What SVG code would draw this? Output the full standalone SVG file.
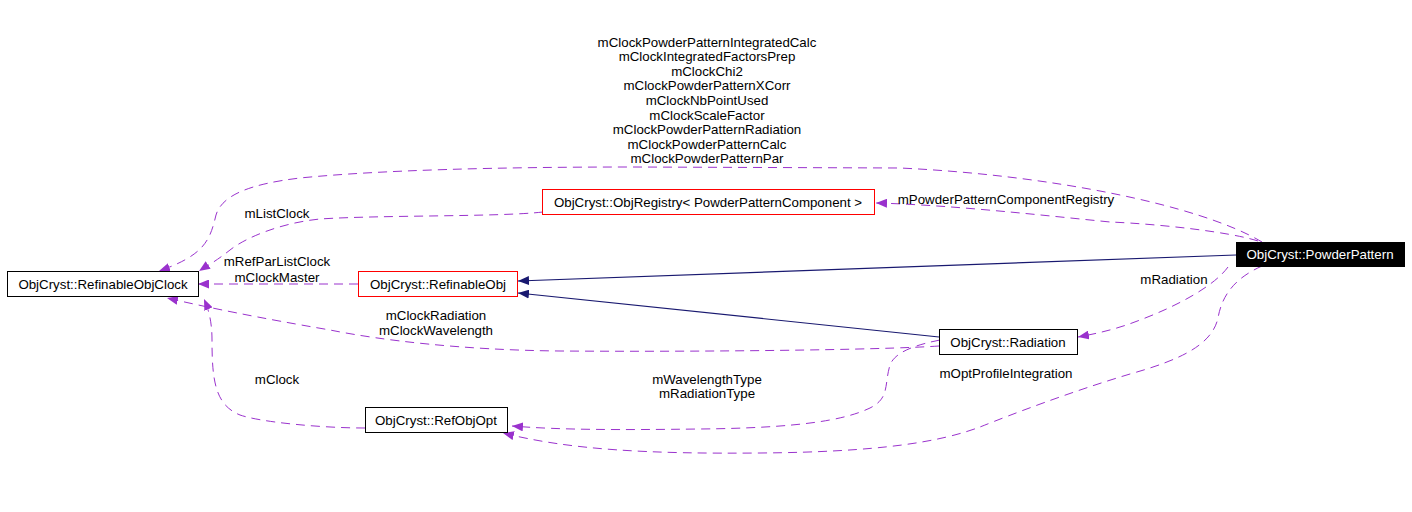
<svg xmlns="http://www.w3.org/2000/svg" width="1412" height="512" viewBox="0 0 1412 512">
<defs>
<style>
text{font-family:"Liberation Sans",Arial,sans-serif;font-size:13.3px;fill:#000;text-anchor:middle}
.box{fill:#fff;stroke:#000;stroke-width:1}
.red{fill:#fff;stroke:#ff0000;stroke-width:1}
.dark{fill:#000;stroke:#000}
.inh{fill:none;stroke:#191970;stroke-width:1.2}
.use{fill:none;stroke:#9a32cd;stroke-width:1;stroke-dasharray:9,6}
</style>
<marker id="ap" markerWidth="12" markerHeight="9" refX="11" refY="4.5" orient="auto" markerUnits="userSpaceOnUse"><path d="M0,0 L11,4.5 L0,9 z" fill="#9a32cd"/></marker>
<marker id="an" markerWidth="12" markerHeight="9" refX="11" refY="4.5" orient="auto" markerUnits="userSpaceOnUse"><path d="M0,0 L11,4.5 L0,9 z" fill="#191970"/></marker>
</defs>
<g id="connectors">
<path class="inh" d="M1236,255 L518,281" marker-end="url(#an)"/>
<path class="inh" d="M939,337 L518,293" marker-end="url(#an)"/>
<path class="use" d="M1262,242 C1200,205 1050,175 900,168 L633,167 C500,167 380,170 300,178 C250,184 222,195 216,215 C210,240 205,255 159,271" marker-end="url(#ap)"/>
<path class="use" d="M543,212 C500,217 380,215 320,219 C280,223 245,238 230,250 C215,262 205,267 199,271" marker-end="url(#ap)"/>
<path class="use" d="M358,284 L198,284" marker-end="url(#ap)"/>
<path class="use" d="M939,346 C880,350 700,352 560,351 C460,350 380,340 330,330 C260,318 210,308 167,298" marker-end="url(#ap)"/>
<path class="use" d="M365,428 C320,428 260,422 240,415 C215,405 212,380 212,340 C212,320 208,308 204,299" marker-end="url(#ap)"/>
<path class="use" d="M1258,241 C1230,232 1160,224 1110,222 C1030,214 950,205 876,203" marker-end="url(#ap)"/>
<path class="use" d="M1228,267 C1215,285 1180,305 1140,320 C1120,328 1100,333 1078,337" marker-end="url(#ap)"/>
<path class="use" d="M1262,266 C1235,278 1222,295 1218,318 C1212,345 1180,360 1130,374 C1070,392 1010,415 980,427 C940,442 880,452 760,453 C650,454 570,450 503,433" marker-end="url(#ap)"/>
<path class="use" d="M940,340 C915,345 895,352 890,365 C884,385 890,398 870,408 C845,420 800,428 700,429 C620,430 560,430 512,426" marker-end="url(#ap)"/>
</g>
<g id="edge-labels">
<text x="707" y="46.5">mClockPowderPatternIntegratedCalc</text>
<text x="707" y="60.5">mClockIntegratedFactorsPrep</text>
<text x="707" y="75.5">mClockChi2</text>
<text x="707" y="89.5">mClockPowderPatternXCorr</text>
<text x="707" y="104.5">mClockNbPointUsed</text>
<text x="707" y="119.5">mClockScaleFactor</text>
<text x="707" y="133.5">mClockPowderPatternRadiation</text>
<text x="707" y="148.5">mClockPowderPatternCalc</text>
<text x="707" y="162.5">mClockPowderPatternPar</text>
<text x="1006" y="203.5">mPowderPatternComponentRegistry</text>
<text x="277" y="217.5">mListClock</text>
<text x="277" y="265.5">mRefParListClock</text>
<text x="277" y="281.5">mClockMaster</text>
<text x="1174" y="283.5">mRadiation</text>
<text x="436" y="319.5">mClockRadiation</text>
<text x="436" y="334.5">mClockWavelength</text>
<text x="277" y="383.5">mClock</text>
<text x="707" y="383.5">mWavelengthType</text>
<text x="707" y="397.5">mRadiationType</text>
<text x="1006" y="377.5">mOptProfileIntegration</text>
</g>
<g id="node-RefinableObjClock"><rect class="box" x="7.5" y="271.5" width="191" height="25"/><text x="103" y="288.5">ObjCryst::RefinableObjClock</text></g>
<g id="node-RefinableObj"><rect class="red" x="358.5" y="271.5" width="159" height="25"/><text x="438" y="288.5">ObjCryst::RefinableObj</text></g>
<g id="node-ObjRegistry"><rect class="red" x="542.5" y="189.5" width="332" height="25"/><text x="708" y="206.5">ObjCryst::ObjRegistry&lt; PowderPatternComponent &gt;</text></g>
<g id="node-PowderPattern"><rect class="dark" x="1236.5" y="242.5" width="168" height="24"/><text x="1320" y="259" style="fill:#fff">ObjCryst::PowderPattern</text></g>
<g id="node-Radiation"><rect class="box" x="939.5" y="329.5" width="138" height="25"/><text x="1008" y="346.5">ObjCryst::Radiation</text></g>
<g id="node-RefObjOpt"><rect class="box" x="365.5" y="407.5" width="142" height="25"/><text x="436" y="424.5">ObjCryst::RefObjOpt</text></g>
</svg>
